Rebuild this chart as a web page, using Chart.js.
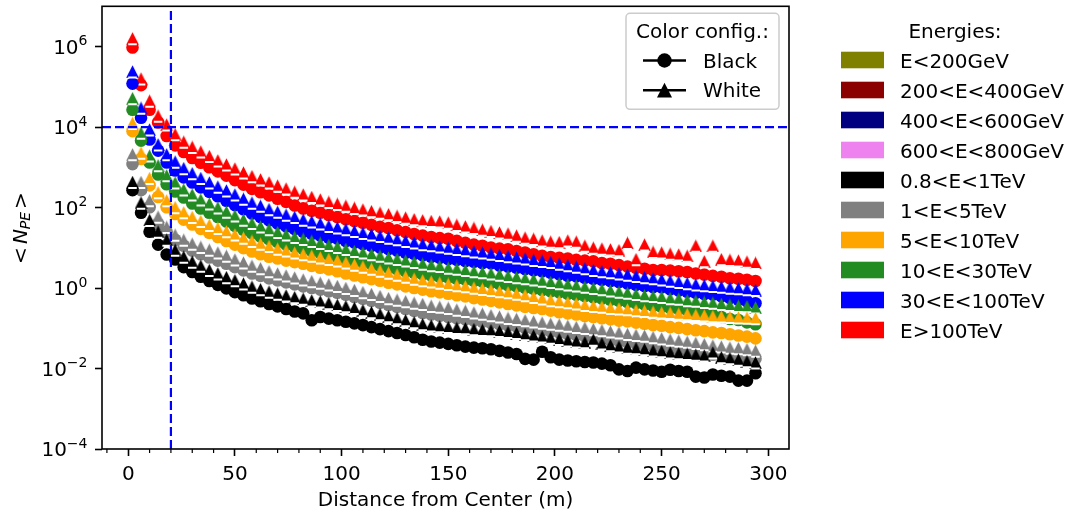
<!DOCTYPE html>
<html>
<head>
<meta charset="utf-8">
<script src="https://cdn.jsdelivr.net/npm/chart.js@4.4.0/dist/chart.umd.min.js"></script>
<style>
  html, body { margin: 0; padding: 0; background: #fff; }
  #myChart { display: block; }
</style>
</head>
<body>
<canvas id="myChart" width="1075" height="517"></canvas>
<script>
// distance bins (m)
const distances = [2, 6, 10, 14, 18, 22, 26, 30, 34, 38, 42, 46, 50, 54, 58, 62, 66, 70, 74, 78,
  82, 86, 90, 94, 98, 102, 106, 110, 114, 118, 122, 126, 130, 134, 138, 142, 146, 150, 154, 158,
  162, 166, 170, 174, 178, 182, 186, 190, 194, 198, 202, 206, 210, 214, 218, 222, 226, 230, 234, 238,
  242, 246, 250, 254, 258, 262, 266, 270, 274, 278, 282, 286, 290, 294];
const binHalfWidth = 2;

const energyLabels = ['E<200GeV', '200<E<400GeV', '400<E<600GeV', '600<E<800GeV', '0.8<E<1TeV',
  '1<E<5TeV', '5<E<10TeV', '10<E<30TeV', '30<E<100TeV', 'E>100TeV'];
const energyColors = ['#808000', '#8b0000', '#000080', '#ee82ee', '#000000',
  '#808080', '#ffa500', '#228b22', '#0000ff', '#ff0000'];
const configLabels = ['Black', 'White'];

const xTicks = [0, 50, 100, 150, 200, 250, 300];
const yTicks = [1e-4, 1e-2, 1, 1e2, 1e4, 1e6];
const cutDistance = 20;
const cutNpe = 1e4;

// <N_PE> per distance bin, black configuration (circles)
const blackRed = [9.5e5, 1.1e5, 2.7e4, 1.3e4, 6.0e3, 3.5e3, 2.4e3, 1.7e3, 1.3e3, 1.0e3,
  790, 620, 480, 370, 290, 240, 200, 165, 138, 112,
  95, 83, 74, 65, 58, 51, 46, 42, 37, 33,
  31, 27, 24.5, 22, 20, 18.6, 17.4, 16.8, 14.8, 13.2,
  12, 11.2, 10.2, 9.5, 9.2, 8.3, 7.6, 6.9, 6.3, 5.9,
  5.6, 5.4, 5.0, 4.8, 4.6, 4.2, 4.0, 3.7, 3.4, 3.2,
  3.0, 2.8, 2.8, 2.7, 2.6, 2.5, 2.3, 2.15, 2.0, 1.9,
  1.75, 1.7, 1.6, 1.5];
const blackBlue = [1.2e5, 1.7e4, 4.9e3, 2.6e3, 1.32e3, 830, 560, 420, 316, 245,
  190, 148, 115, 91, 71, 58, 48, 40, 34, 29,
  25, 22.4, 20, 17.8, 16.9, 14.8, 13.5, 12.3, 11.2, 10.2,
  9.3, 8.5, 7.5, 7.1, 6.5, 6.0, 5.6, 5.25, 5.0, 4.7,
  4.5, 4.2, 4.1, 3.6, 3.4, 3.2, 2.95, 2.75, 2.6, 2.4,
  2.2, 2.0, 1.95, 1.8, 1.7, 1.6, 1.5, 1.4, 1.3, 1.2,
  1.12, 1.05, 1.04, 0.93, 0.87, 0.81, 0.76, 0.71, 0.69, 0.62,
  0.56, 0.51, 0.47, 0.42];
const blackGreen = [2.7e4, 4.6e3, 1.32e3, 660, 380, 250, 178, 126, 95, 74,
  58, 45, 35, 28, 23, 19, 16.2, 13.8, 12, 10.5,
  9.3, 8.3, 7.4, 6.6, 5.9, 5.25, 4.7, 4.3, 3.9, 3.5,
  3.16, 2.9, 2.6, 2.4, 2.2, 2.05, 1.9, 1.82, 1.7, 1.62,
  1.51, 1.45, 1.35, 1.26, 1.17, 1.1, 1.02, 0.95, 0.89, 0.83,
  0.78, 0.72, 0.68, 0.63, 0.59, 0.55, 0.51, 0.48, 0.45, 0.42,
  0.39, 0.36, 0.34, 0.32, 0.3, 0.28, 0.25, 0.23, 0.21, 0.19,
  0.17, 0.16, 0.14, 0.126];
const blackOrange = [7.9e3, 1.6e3, 355, 182, 102, 69, 50, 38, 29.5, 23.4,
  18.6, 14.8, 12, 9.8, 8.1, 6.9, 6.0, 5.4, 4.8, 4.4,
  4.0, 3.55, 3.2, 2.9, 2.6, 2.3, 2.04, 1.86, 1.66, 1.51,
  1.35, 1.23, 1.1, 1.0, 0.91, 0.83, 0.78, 0.72, 0.66, 0.62,
  0.56, 0.52, 0.48, 0.44, 0.4, 0.37, 0.34, 0.32, 0.3, 0.275,
  0.25, 0.235, 0.22, 0.2, 0.19, 0.178, 0.166, 0.155, 0.148, 0.138,
  0.129, 0.12, 0.115, 0.107, 0.102, 0.095, 0.089, 0.085, 0.079, 0.076,
  0.071, 0.066, 0.062, 0.056];
const blackGrey = [1.2e3, 270, 102, 39, 25, 15.8, 11.2, 8.5, 6.9, 5.75,
  4.8, 4.0, 3.3, 2.75, 2.3, 2.0, 1.74, 1.55, 1.38, 1.23,
  1.1, 1.0, 0.91, 0.83, 0.76, 0.68, 0.6, 0.54, 0.48, 0.43,
  0.38, 0.34, 0.3, 0.27, 0.24, 0.22, 0.204, 0.19, 0.178, 0.166,
  0.155, 0.145, 0.135, 0.126, 0.117, 0.11, 0.102, 0.095, 0.089, 0.083,
  0.078, 0.072, 0.068, 0.063, 0.059, 0.055, 0.051, 0.048, 0.045, 0.042,
  0.039, 0.036, 0.034, 0.032, 0.03, 0.028, 0.026, 0.024, 0.022, 0.021,
  0.02, 0.0195, 0.0186, 0.0174];
const blackBlack = [270, 74, 25, 12, 6.8, 5.1, 3.3, 2.5, 1.9, 1.5,
  1.2, 0.98, 0.79, 0.66, 0.55, 0.47, 0.4, 0.35, 0.3, 0.26,
  0.234, 0.158, 0.19, 0.174, 0.158, 0.145, 0.132, 0.12, 0.107, 0.095,
  0.085, 0.076, 0.068, 0.06, 0.052, 0.047, 0.044, 0.041, 0.038, 0.035,
  0.033, 0.032, 0.03, 0.0275, 0.025, 0.023, 0.0174, 0.0166, 0.026, 0.019,
  0.0166, 0.0158, 0.0151, 0.0145, 0.0141, 0.0132, 0.012, 0.0095, 0.0087, 0.0105,
  0.0095, 0.0089, 0.0083, 0.0093, 0.0087, 0.0083, 0.0063, 0.006, 0.0071, 0.0066,
  0.0063, 0.005, 0.005, 0.0076];

// <N_PE> per distance bin, white configuration (triangles)
const whiteRed = [1.6e6, 1.6e5, 4.5e4, 1.9e4, 1.15e4, 6.6e3, 4.3e3, 3.2e3, 2.45e3, 1.9e3,
  1480, 1170, 930, 740, 600, 500, 420, 350, 295, 245,
  210, 182, 158, 138, 123, 110, 98, 89, 81, 74,
  68, 62, 56, 51, 48, 46, 45, 42, 37, 34,
  31, 28, 26, 24, 22.4, 20, 17.8, 16.6, 15.1, 14.1,
  13.8, 15.1, 14.1, 11.2, 10, 9.5, 9.1, 8.7, 13.2, 5.2,
  12, 7.9, 7.6, 7.1, 6.8, 6.3, 11.2, 4.6, 11.2, 5.2,
  5.0, 4.8, 4.5, 4.2];
const whiteBlue = [2.4e5, 3.0e4, 8.7e3, 3.7e3, 2.1e3, 1.38e3, 950, 710, 540, 420,
  330, 265, 210, 165, 132, 110, 91, 78, 66, 58,
  50, 45, 40, 35, 32, 29, 26, 23.4, 21.4, 19.5,
  17.8, 16.2, 14.8, 13.5, 12.3, 11.5, 10.7, 10, 9.3, 8.7,
  8.1, 7.6, 7.1, 6.6, 6.2, 5.75, 5.4, 5.0, 4.7, 4.4,
  4.0, 3.7, 3.4, 3.1, 2.8, 2.6, 2.45, 2.3, 2.15, 2.0,
  1.86, 1.74, 1.62, 1.51, 1.41, 1.32, 1.23, 1.17, 1.12, 1.07,
  1.02, 0.98, 0.93, 0.89];
const whiteGreen = [5.2e4, 7.2e3, 1.95e3, 1.12e3, 630, 420, 280, 210, 158, 126,
  100, 79, 63, 50, 41, 34, 29, 24.5, 21.4, 18.6,
  16.6, 14.8, 13.2, 11.7, 10.5, 9.3, 8.3, 7.6, 6.9, 6.3,
  5.75, 5.25, 4.8, 4.4, 4.0, 3.7, 3.5, 3.2, 3.0, 2.8,
  2.6, 2.45, 2.3, 2.15, 2.0, 1.86, 1.74, 1.62, 1.51, 1.41,
  1.32, 1.23, 1.15, 1.07, 1.0, 0.93, 0.87, 0.81, 0.76, 0.71,
  0.66, 0.63, 0.6, 0.56, 0.54, 0.5, 0.48, 0.45, 0.43, 0.4,
  0.38, 0.36, 0.35, 0.33];
const whiteOrange = [1.26e4, 2.3e3, 540, 240, 151, 102, 76, 58, 46, 37,
  31, 25.7, 21.4, 17.8, 14.8, 12.6, 11, 9.5, 8.5, 7.6,
  6.9, 6.3, 5.75, 5.25, 4.8, 4.3, 3.8, 3.4, 3.0, 2.7,
  2.4, 2.15, 1.9, 1.7, 1.55, 1.45, 1.35, 1.26, 1.17, 1.1,
  1.02, 0.95, 0.89, 0.83, 0.78, 0.72, 0.66, 0.6, 0.55, 0.5,
  0.47, 0.44, 0.41, 0.38, 0.355, 0.34, 0.32, 0.31, 0.295, 0.28,
  0.27, 0.257, 0.245, 0.24, 0.23, 0.224, 0.214, 0.209, 0.2, 0.195,
  0.19, 0.186, 0.182, 0.178];
const whiteGrey = [2.1e3, 430, 151, 59, 33, 21, 15.8, 12.6, 10.5, 8.9,
  7.6, 6.3, 5.1, 4.3, 3.55, 3.1, 2.6, 2.3, 2.04, 1.82,
  1.62, 1.48, 1.35, 1.23, 1.12, 1.0, 0.89, 0.79, 0.71, 0.63,
  0.56, 0.51, 0.47, 0.43, 0.4, 0.36, 0.34, 0.32, 0.29, 0.27,
  0.245, 0.23, 0.21, 0.195, 0.18, 0.17, 0.158, 0.148, 0.138, 0.129,
  0.123, 0.115, 0.107, 0.102, 0.095, 0.089, 0.083, 0.078, 0.072, 0.068,
  0.065, 0.06, 0.056, 0.052, 0.049, 0.046, 0.043, 0.04, 0.037, 0.035,
  0.033, 0.032, 0.03, 0.0275];
const whiteBlack = [430, 132, 49, 25, 15.8, 8.9, 6.0, 4.5, 3.55, 2.8,
  2.3, 1.86, 1.55, 1.29, 1.07, 0.93, 0.81, 0.72, 0.65, 0.59,
  0.54, 0.49, 0.46, 0.42, 0.38, 0.35, 0.32, 0.28, 0.25, 0.224,
  0.2, 0.178, 0.158, 0.141, 0.126, 0.117, 0.112, 0.107, 0.102, 0.1,
  0.095, 0.091, 0.089, 0.085, 0.081, 0.076, 0.071, 0.066, 0.062, 0.058,
  0.054, 0.05, 0.047, 0.045, 0.052, 0.042, 0.038, 0.035, 0.033, 0.032,
  0.03, 0.028, 0.027, 0.025, 0.024, 0.023, 0.022, 0.021, 0.025, 0.019,
  0.018, 0.0166, 0.0151, 0.0141];

// energy index, black config, white config -- in plotting order
const plotOrder = [
  [9, blackRed, whiteRed],
  [8, blackBlue, whiteBlue],
  [7, blackGreen, whiteGreen],
  [6, blackOrange, whiteOrange],
  [5, blackGrey, whiteGrey],
  [4, blackBlack, whiteBlack]
];

const FONT = '"DejaVu Sans", "Liberation Sans", sans-serif';

function triangleMarker(color, size) {
  let c = document.createElement('canvas');
  c.width = size; c.height = size;
  let g = c.getContext('2d');
  g.fillStyle = color;
  g.beginPath();
  g.moveTo(size / 2, 0.2);
  g.lineTo(size - 0.2, size - 0.2);
  g.lineTo(0.2, size - 0.2);
  g.closePath();
  g.fill();
  return c;
}

function makeSet(ei, cfg, values) {
  let col = energyColors[ei];
  return {
    label: energyLabels[ei] + ' ' + cfg,
    data: distances.map((d, i) => ({ x: d, y: values[i] })),
    pointStyle: cfg === 'Black' ? 'circle' : triangleMarker(col, 13),
    pointRadius: 6.3,
    backgroundColor: col,
    borderColor: col,
    borderWidth: 0,
    barMark: cfg === 'White'
  };
}

let datasets = [];
plotOrder.forEach(row => {
  datasets.push(makeSet(row[0], configLabels[0], row[1]));
  datasets.push(makeSet(row[0], configLabels[1], row[2]));
});
// first in list is drawn first
datasets.forEach((d, i) => { d.order = datasets.length - i; });

// white bin-width bars under the triangles
const errorBars = {
  id: 'errorBars',
  afterDatasetDraw(chart, args) {
    let ds = chart.data.datasets[args.index];
    if (!ds.barMark) return;
    let ctx = chart.ctx, a = chart.chartArea, xs = chart.scales.x;
    ctx.save();
    ctx.beginPath();
    ctx.rect(a.left, a.top, a.right - a.left, a.bottom - a.top);
    ctx.clip();
    ctx.strokeStyle = '#ffffff';
    ctx.lineWidth = 2;
    ctx.beginPath();
    args.meta.data.forEach((pt, i) => {
      let xv = ds.data[i].x;
      ctx.moveTo(xs.getPixelForValue(xv - binHalfWidth), pt.y + 6);
      ctx.lineTo(xs.getPixelForValue(xv + binHalfWidth), pt.y + 6);
    });
    ctx.stroke();
    ctx.restore();
  }
};

function roundRect(ctx, x, y, w, h, r) {
  ctx.beginPath();
  ctx.moveTo(x + r, y);
  ctx.lineTo(x + w - r, y);
  ctx.arcTo(x + w, y, x + w, y + r, r);
  ctx.lineTo(x + w, y + h - r);
  ctx.arcTo(x + w, y + h, x + w - r, y + h, r);
  ctx.lineTo(x + r, y + h);
  ctx.arcTo(x, y + h, x, y + h - r, r);
  ctx.lineTo(x, y + r);
  ctx.arcTo(x, y, x + r, y, r);
  ctx.closePath();
}

const overlay = {
  id: 'overlay',
  afterDatasetsDraw(chart) {
    let ctx = chart.ctx, a = chart.chartArea;
    let xs = chart.scales.x, ys = chart.scales.y;

    // cut lines
    ctx.save();
    ctx.strokeStyle = '#0000ff';
    ctx.lineWidth = 2.2;
    ctx.setLineDash([9, 4]);
    let vx = xs.getPixelForValue(cutDistance);
    ctx.beginPath(); ctx.moveTo(vx, a.bottom); ctx.lineTo(vx, a.top); ctx.stroke();
    let hy = ys.getPixelForValue(cutNpe);
    ctx.beginPath(); ctx.moveTo(a.left, hy); ctx.lineTo(a.right, hy); ctx.stroke();
    ctx.restore();

    // frame
    ctx.save();
    ctx.strokeStyle = '#000';
    ctx.lineWidth = 1.6;
    ctx.strokeRect(a.left, a.top, a.right - a.left, a.bottom - a.top);

    // minor x ticks
    ctx.lineWidth = 1.2;
    ctx.beginPath();
    for (let v = -10; v <= 310; v += 10) {
      if (v % 50 === 0 || v < xs.min || v > xs.max) continue;
      let px = xs.getPixelForValue(v);
      ctx.moveTo(px, a.bottom); ctx.lineTo(px, a.bottom + 4);
    }
    ctx.stroke();

    // y tick labels 10^n
    ctx.fillStyle = '#000';
    ctx.textBaseline = 'alphabetic';
    ctx.textAlign = 'left';
    yTicks.forEach(v => {
      let e = Math.round(Math.log10(v));
      let y = ys.getPixelForValue(v);
      let sup = e < 0 ? '\u2212' + (-e) : String(e);
      ctx.font = '20px ' + FONT;
      let wb = ctx.measureText('10').width;
      ctx.font = '14px ' + FONT;
      let ws = ctx.measureText(sup).width;
      let x0 = 87.5 - wb - ws;
      ctx.font = '20px ' + FONT;
      ctx.fillText('10', x0, y + 7.3);
      ctx.font = '14px ' + FONT;
      ctx.fillText(sup, x0 + wb, y - 1.3);
    });

    // y title  < N_PE >
    ctx.save();
    ctx.translate(26.5, 228);
    ctx.rotate(-Math.PI / 2);
    let parts = [
      { t: '<', f: '20px ' + FONT, dy: 0, gap: 3 },
      { t: 'N', f: 'italic 20px ' + FONT, dy: 0, gap: 0 },
      { t: 'PE', f: 'italic 14px ' + FONT, dy: 3, gap: 3 },
      { t: '>', f: '20px ' + FONT, dy: 0, gap: 0 }
    ];
    let total = 0;
    parts.forEach(p => { ctx.font = p.f; p.w = ctx.measureText(p.t).width; total += p.w + p.gap; });
    let cx = -total / 2;
    parts.forEach(p => { ctx.font = p.f; ctx.fillText(p.t, cx, p.dy); cx += p.w + p.gap; });
    ctx.restore();

    // legend: colour configuration
    roundRect(ctx, 626, 13.3, 153, 96, 4);
    ctx.fillStyle = 'rgba(255,255,255,0.8)';
    ctx.fill();
    ctx.strokeStyle = '#cccccc';
    ctx.lineWidth = 1.5;
    ctx.stroke();
    ctx.fillStyle = '#000';
    ctx.font = '20px ' + FONT;
    ctx.textAlign = 'center';
    ctx.fillText('Color config.:', 702.5, 37.5);
    ctx.textAlign = 'left';
    configLabels.forEach((lab, i) => {
      let y = 60.5 + 29.7 * i;
      ctx.strokeStyle = '#000';
      ctx.lineWidth = 2.6;
      ctx.beginPath(); ctx.moveTo(643, y); ctx.lineTo(686, y); ctx.stroke();
      ctx.fillStyle = '#000';
      if (i === 0) {
        ctx.beginPath(); ctx.arc(664.5, y, 7.2, 0, Math.PI * 2); ctx.fill();
      } else {
        ctx.beginPath();
        ctx.moveTo(664.5, y - 7.4); ctx.lineTo(672, y + 7.4); ctx.lineTo(657, y + 7.4);
        ctx.closePath(); ctx.fill();
      }
      ctx.fillText(lab, 703, y + 7.2);
    });

    // legend: energies
    ctx.textAlign = 'center';
    ctx.fillText('Energies:', 955, 37.5);
    ctx.textAlign = 'left';
    energyLabels.forEach((lab, i) => {
      ctx.fillStyle = energyColors[i];
      ctx.fillRect(841, 51.7 + 30 * i, 43, 16.6);
      ctx.fillStyle = '#000';
      ctx.fillText(lab, 900, 67.7 + 30 * i);
    });
    ctx.restore();
  }
};

new Chart('myChart', {
  type: 'scatter',
  data: { datasets: datasets },
  options: {
    responsive: false,
    animation: false,
    events: [],
    layout: { padding: { left: 0, right: 286, top: 3, bottom: 0 } },
    plugins: { legend: { display: false }, tooltip: { enabled: false } },
    scales: {
      x: {
        type: 'linear',
        min: -12.3,
        max: 309.7,
        afterBuildTicks: s => { s.ticks = xTicks.map(v => ({ value: v })); },
        afterFit: s => { s.height = 68; },
        ticks: {
          color: '#000',
          font: { family: FONT, size: 20 },
          padding: 7,
          maxRotation: 0,
          autoSkip: false,
          callback: v => String(v)
        },
        grid: { display: true, drawOnChartArea: false, tickLength: 7, tickWidth: 1.6, tickColor: '#000' },
        border: { display: false },
        title: {
          display: true,
          text: 'Distance from Center (m)',
          color: '#000',
          font: { family: FONT, size: 20 },
          padding: { top: 0, bottom: 4 }
        }
      },
      y: {
        type: 'logarithmic',
        min: 1e-4,
        max: 1e7,
        afterBuildTicks: s => { s.ticks = yTicks.map(v => ({ value: v })); },
        afterFit: s => { s.width = 102; },
        ticks: { display: false },
        grid: { display: true, drawOnChartArea: false, tickLength: 7, tickWidth: 1.6, tickColor: '#000' },
        border: { display: false }
      }
    }
  },
  plugins: [errorBars, overlay]
});
</script>
</body>
</html>
